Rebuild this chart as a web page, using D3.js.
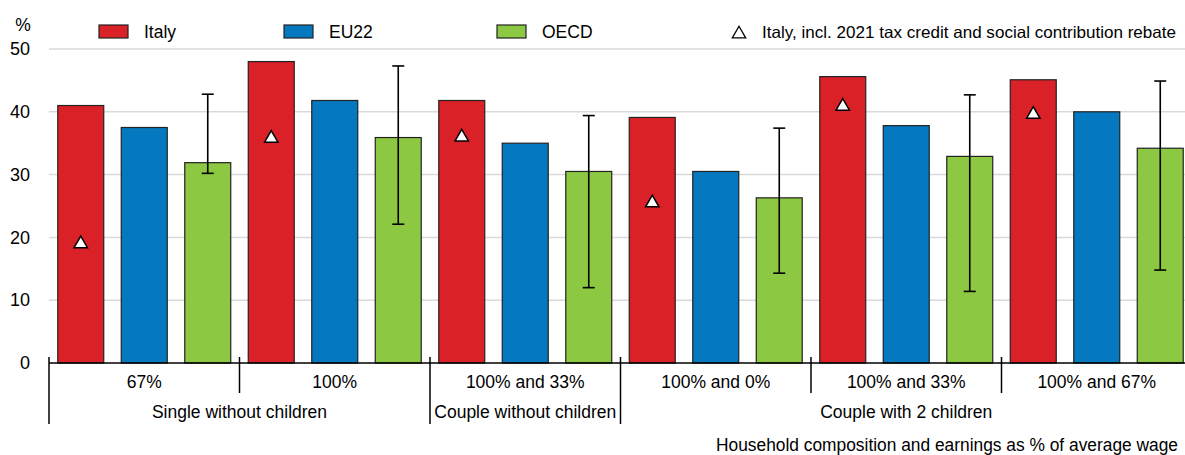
<!DOCTYPE html>
<html>
<head>
<meta charset="utf-8">
<script src="https://cdn.jsdelivr.net/npm/d3@7"></script>
<style>
  body { margin: 0; background: #fff; }
  svg { display: block; font-family: "Liberation Sans", Arial, sans-serif; }
</style>
</head>
<body>
<div id="chart"></div>
<script>
// values
var categories = ["67%", "100%", "100% and 33%", "100% and 0%", "100% and 33%", "100% and 67%"];
var households = ["Single without children", "Couple without children", "Couple with 2 children"];
var householdSpan = [2, 1, 3];
var series = ["Italy", "EU22", "OECD"];
var italy = [41.0, 48.0, 41.8, 39.1, 45.6, 45.1];
var eu22 = [37.5, 41.8, 35.0, 30.5, 37.8, 40.0];
var oecd = [31.9, 35.9, 30.5, 26.3, 32.9, 34.2];
var oecdMin = [30.2, 22.1, 12.0, 14.3, 11.4, 14.8];
var oecdMax = [42.8, 47.3, 39.4, 37.4, 42.7, 44.9];
var italyRebate = [19.3, 36.1, 36.3, 25.8, 41.2, 39.9];
var yTicks = [0, 10, 20, 30, 40, 50];

(function() {
    var width = 1185;
    var height = 455;
    var fs = 17.5;
    var colors = { "Italy": "#da2128", "EU22": "#0579c0", "OECD": "#8cc841" };

    var svg = d3.select("#chart")
    .append("svg")
    .attr("width", width)
    .attr("height", height);

    var x0 = d3.scaleBand().domain(d3.range(categories.length)).range([49, 49 + 6 * 190.5]);
    var x1 = d3.scaleBand().domain(series).range([0, x0.bandwidth()])
        .paddingInner(0.276).paddingOuter(0.138);
    var y = d3.scaleLinear().domain([0, 50]).range([363, 49]);

    // gridlines
    svg.append("g")
    .selectAll("line")
    .data(yTicks.filter(d => d > 0))
    .enter().append("line")
    .attr("x1", 49).attr("x2", width)
    .attr("y1", d => y(d)).attr("y2", d => y(d))
    .attr("stroke", "#d9d9d9")
    .attr("stroke-width", 1.5);

    // y axis labels
    var yAxis = svg.append("g")
    .attr("transform", "translate(38,0)")
    .call(d3.axisLeft(y).tickValues(yTicks).tickSize(0).tickPadding(8));
    yAxis.select(".domain").remove();
    yAxis.selectAll("text")
    .attr("font-size", 18)
    .attr("font-family", "Liberation Sans, Arial, sans-serif")
    .attr("fill", "#000");

    svg.append("text")
    .attr("x", 23).attr("y", 31)
    .attr("text-anchor", "middle")
    .attr("font-size", fs)
    .text("%");

    var rows = categories.map(function(c, i) {
        return { i: i, vals: [
            { s: "Italy", v: italy[i] },
            { s: "EU22", v: eu22[i] },
            { s: "OECD", v: oecd[i] }
        ] };
    });

    var groups = svg.selectAll(".grp")
    .data(rows)
    .enter().append("g")
    .attr("class", "grp")
    .attr("transform", d => "translate(" + x0(d.i) + ",0)");

    groups.selectAll("rect")
    .data(d => d.vals)
    .enter().append("rect")
    .attr("x", d => x1(d.s))
    .attr("y", d => y(d.v))
    .attr("width", x1.bandwidth())
    .attr("height", d => y(0) - y(d.v))
    .attr("fill", d => colors[d.s])
    .attr("stroke", "#222")
    .attr("stroke-width", 1.2);

    // OECD min-max range
    var ex = x1("OECD") + x1.bandwidth() / 2;
    var err = groups.append("g").attr("stroke", "#000").attr("stroke-width", 1.6);
    err.append("line")
    .attr("x1", ex).attr("x2", ex)
    .attr("y1", d => y(oecdMax[d.i])).attr("y2", d => y(oecdMin[d.i]));
    err.append("line")
    .attr("x1", ex - 6).attr("x2", ex + 6)
    .attr("y1", d => y(oecdMax[d.i])).attr("y2", d => y(oecdMax[d.i]));
    err.append("line")
    .attr("x1", ex - 6).attr("x2", ex + 6)
    .attr("y1", d => y(oecdMin[d.i])).attr("y2", d => y(oecdMin[d.i]));

    // Italy incl. rebate
    var tri = d3.symbol().type(d3.symbolTriangle).size(78);
    var tx = x1("Italy") + x1.bandwidth() / 2;
    groups.append("path")
    .attr("d", tri)
    .attr("transform", d => "translate(" + tx + "," + (y(italyRebate[d.i]) + 2) + ")")
    .attr("fill", "#fff")
    .attr("stroke", "#000")
    .attr("stroke-width", 1.5);

    // zero line
    svg.append("line")
    .attr("x1", 49).attr("x2", width)
    .attr("y1", y(0)).attr("y2", y(0))
    .attr("stroke", "#000")
    .attr("stroke-width", 1.5);

    // category labels and separators
    svg.selectAll(".cat")
    .data(categories)
    .enter().append("text")
    .attr("class", "cat")
    .attr("x", (d, i) => x0(i) + x0.bandwidth() / 2)
    .attr("y", 388)
    .attr("text-anchor", "middle")
    .attr("font-size", fs)
    .text(d => d);

    var starts = [0];
    householdSpan.forEach(function(s, i) { starts.push(starts[i] + s); });

    svg.selectAll(".sep")
    .data(d3.range(categories.length + 1))
    .enter().append("line")
    .attr("x1", i => i < categories.length ? x0(i) : x0.range()[1])
    .attr("x2", i => i < categories.length ? x0(i) : x0.range()[1])
    .attr("y1", 357)
    .attr("y2", i => starts.indexOf(i) >= 0 ? 424 : 393)
    .attr("stroke", "#000")
    .attr("stroke-width", 1.5);

    svg.selectAll(".hh")
    .data(households)
    .enter().append("text")
    .attr("class", "hh")
    .attr("x", function(d, i) {
        var a = x0(starts[i]);
        var b = starts[i + 1] < categories.length ? x0(starts[i + 1]) : x0.range()[1];
        return (a + b) / 2;
    })
    .attr("y", 418)
    .attr("text-anchor", "middle")
    .attr("font-size", fs)
    .text(d => d);

    svg.append("text")
    .attr("x", 1178).attr("y", 451)
    .attr("text-anchor", "end")
    .attr("font-size", fs)
    .attr("textLength", 462)
    .attr("lengthAdjust", "spacingAndGlyphs")
    .text("Household composition and earnings as % of average wage");

    // legend
    var legendX = [99, 284, 497];
    var leg = svg.selectAll(".leg")
    .data(series)
    .enter().append("g")
    .attr("class", "leg")
    .attr("transform", (d, i) => "translate(" + legendX[i] + ",25)");
    leg.append("rect")
    .attr("width", 29).attr("height", 13)
    .attr("fill", d => colors[d])
    .attr("stroke", "#222")
    .attr("stroke-width", 1.2);
    leg.append("text")
    .attr("x", 45).attr("y", 13)
    .attr("font-size", fs)
    .text(d => d);

    svg.append("path")
    .attr("d", tri)
    .attr("transform", "translate(739,34)")
    .attr("fill", "#fff")
    .attr("stroke", "#000")
    .attr("stroke-width", 1.3);
    svg.append("text")
    .attr("x", 762).attr("y", 38)
    .attr("font-size", 16.5)
    .attr("textLength", 414)
    .attr("lengthAdjust", "spacingAndGlyphs")
    .text("Italy, incl. 2021 tax credit and social contribution rebate");
})();
</script>
</body>
</html>
